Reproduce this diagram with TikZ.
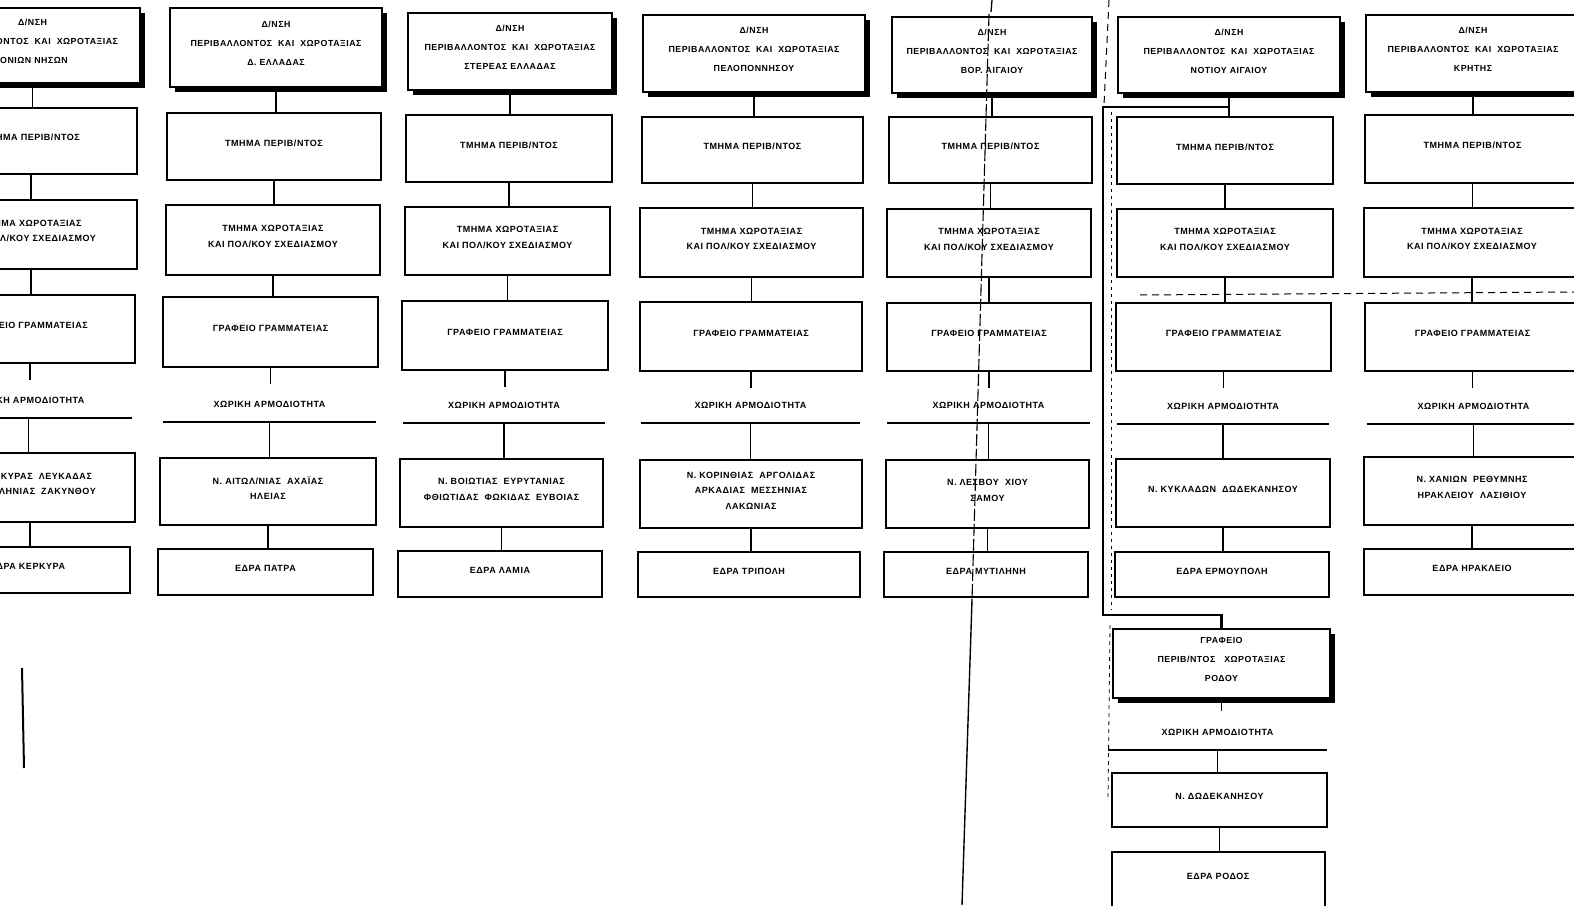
\documentclass[tikz,border=0pt]{standalone}
\usepackage{fontspec}
\newfontfamily\grf[LetterSpace=6]{Liberation Sans}
\usetikzlibrary{shadows}
\tikzset{
  bxs/.style={draw, line width=1.7pt, fill=white, inner sep=0pt},
  hds/.style={bxs, line width=2.2pt,
    drop shadow={shadow xshift=4.5pt, shadow yshift=-5pt, fill=black, opacity=1}},
  txt/.style={align=center, inner sep=0pt,
    font=\grf\bfseries\fontsize{9}{15.5}\selectfont},
  htxt/.style={align=center, inner sep=0pt,
    font=\grf\bfseries\fontsize{8.8}{19}\selectfont},
  conn/.style={line width=1.7pt},
  lbl/.style={inner sep=0pt, minimum height=34pt, anchor=south, align=center,
    font=\grf\bfseries\fontsize{9}{15}\selectfont},
  hl/.style={line width=1.5pt},
  artd/.style={line width=1pt, dash pattern=on 7pt off 5pt},
}
\newcommand\mybox[6]{\node[bxs, minimum width={#4-#2}, minimum height={#5-#3}] (#1) at ({(#2+#4)/2},{(#3+#5)/2}) {};
  \node[txt] (#1t) at ([yshift=3.5pt]#1.center) {#6};}
\newcommand\myhead[6]{\node[hds, minimum width={#4-#2}, minimum height={#5-#3}] (#1) at ({(#2+#4)/2},{(#3+#5)/2}) {};
  \node[htxt] (#1t) at ([yshift=4pt]#1.center) {#6};}
\newcommand\mylab[5]{\node[lbl, minimum width={#3-#2}] (#1) at ({(#2+#3)/2},#4) {#5};
  \draw[hl] (#1.south west) -- (#1.south east);}
\newcommand\vc[2]{\draw[conn] (#1.south) -- (#1.south |- #2.north);}
\newcommand\stub[1]{\draw[conn] (#1.south) -- ++(0,16);}
\begin{document}
\begin{tikzpicture}[x=1pt,y=-1pt]
\useasboundingbox (0,0) rectangle (1574,905);
\clip (0,0) rectangle (1574,905);
\fill[white] (0,0) rectangle (1574,905);

% ---------- column 1 : Ionian islands ----------
\myhead{h1}{-75}{8}{140}{83}{Δ/ΝΣΗ\\ΠΕΡΙΒΑΛΛΟΝΤΟΣ\ \ ΚΑΙ\ \ ΧΩΡΟΤΑΞΙΑΣ\\ΙΟΝΙΩΝ ΝΗΣΩΝ}
\mybox{a1}{-75}{108}{137}{174}{ΤΜΗΜΑ ΠΕΡΙΒ/ΝΤΟΣ}
\mybox{b1}{-75}{200}{137}{269}{ΤΜΗΜΑ ΧΩΡΟΤΑΞΙΑΣ\\ΚΑΙ ΠΟΛ/ΚΟΥ ΣΧΕΔΙΑΣΜΟΥ}
\mybox{c1}{-75}{295}{135}{363}{ΓΡΑΦΕΙΟ ΓΡΑΜΜΑΤΕΙΑΣ}
\mylab{l1}{-75}{132}{418}{ΧΩΡΙΚΗ ΑΡΜΟΔΙΟΤΗΤΑ}
\mybox{d1}{-75}{453}{135}{522}{Ν. ΚΕΡΚΥΡΑΣ\ \ ΛΕΥΚΑΔΑΣ\\ΚΕΦΑΛΛΗΝΙΑΣ\ \ ΖΑΚΥΝΘΟΥ}
\mybox{e1}{-75}{547}{130}{593}{ΕΔΡΑ ΚΕΡΚΥΡΑ}
\vc{h1}{a1}\vc{a1}{b1}\vc{b1}{c1}\stub{c1}\vc{l1}{d1}\vc{d1}{e1}

% ---------- column 2 : W. Greece ----------
\myhead{h2}{170}{8}{382}{87}{Δ/ΝΣΗ\\ΠΕΡΙΒΑΛΛΟΝΤΟΣ\ \ ΚΑΙ\ \ ΧΩΡΟΤΑΞΙΑΣ\\Δ. ΕΛΛΑΔΑΣ}
\mybox{a2}{167}{113}{381}{180}{ΤΜΗΜΑ ΠΕΡΙΒ/ΝΤΟΣ}
\mybox{b2}{166}{205}{380}{275}{ΤΜΗΜΑ ΧΩΡΟΤΑΞΙΑΣ\\ΚΑΙ ΠΟΛ/ΚΟΥ ΣΧΕΔΙΑΣΜΟΥ}
\mybox{c2}{163}{297}{378}{367}{ΓΡΑΦΕΙΟ ΓΡΑΜΜΑΤΕΙΑΣ}
\mylab{l2}{163}{376}{422}{ΧΩΡΙΚΗ ΑΡΜΟΔΙΟΤΗΤΑ}
\mybox{d2}{160}{458}{376}{525}{Ν. ΑΙΤΩΛ/ΝΙΑΣ\ \ ΑΧΑΪΑΣ\\ΗΛΕΙΑΣ}
\mybox{e2}{158}{549}{373}{595}{ΕΔΡΑ ΠΑΤΡΑ}
\vc{h2}{a2}\vc{a2}{b2}\vc{b2}{c2}\stub{c2}\vc{l2}{d2}\vc{d2}{e2}

% ---------- column 3 : Central Greece ----------
\myhead{h3}{408}{13}{612}{90}{Δ/ΝΣΗ\\ΠΕΡΙΒΑΛΛΟΝΤΟΣ\ \ ΚΑΙ\ \ ΧΩΡΟΤΑΞΙΑΣ\\ΣΤΕΡΕΑΣ ΕΛΛΑΔΑΣ}
\mybox{a3}{406}{115}{612}{182}{ΤΜΗΜΑ ΠΕΡΙΒ/ΝΤΟΣ}
\mybox{b3}{405}{207}{610}{275}{ΤΜΗΜΑ ΧΩΡΟΤΑΞΙΑΣ\\ΚΑΙ ΠΟΛ/ΚΟΥ ΣΧΕΔΙΑΣΜΟΥ}
\mybox{c3}{402}{301}{608}{370}{ΓΡΑΦΕΙΟ ΓΡΑΜΜΑΤΕΙΑΣ}
\mylab{l3}{403}{605}{423}{ΧΩΡΙΚΗ ΑΡΜΟΔΙΟΤΗΤΑ}
\mybox{d3}{400}{459}{603}{527}{Ν. ΒΟΙΩΤΙΑΣ\ \ ΕΥΡΥΤΑΝΙΑΣ\\ΦΘΙΩΤΙΔΑΣ\ \ ΦΩΚΙΔΑΣ\ \ ΕΥΒΟΙΑΣ}
\mybox{e3}{398}{551}{602}{597}{ΕΔΡΑ ΛΑΜΙΑ}
\vc{h3}{a3}\vc{a3}{b3}\vc{b3}{c3}\stub{c3}\vc{l3}{d3}\vc{d3}{e3}

% ---------- column 4 : Peloponnese ----------
\myhead{h4}{643}{15}{865}{92}{Δ/ΝΣΗ\\ΠΕΡΙΒΑΛΛΟΝΤΟΣ\ \ ΚΑΙ\ \ ΧΩΡΟΤΑΞΙΑΣ\\ΠΕΛΟΠΟΝΝΗΣΟΥ}
\mybox{a4}{642}{117}{863}{183}{ΤΜΗΜΑ ΠΕΡΙΒ/ΝΤΟΣ}
\mybox{b4}{640}{208}{863}{277}{ΤΜΗΜΑ ΧΩΡΟΤΑΞΙΑΣ\\ΚΑΙ ΠΟΛ/ΚΟΥ ΣΧΕΔΙΑΣΜΟΥ}
\mybox{c4}{640}{302}{862}{371}{ΓΡΑΦΕΙΟ ΓΡΑΜΜΑΤΕΙΑΣ}
\mylab{l4}{641}{860}{423}{ΧΩΡΙΚΗ ΑΡΜΟΔΙΟΤΗΤΑ}
\mybox{d4}{640}{460}{862}{528}{Ν. ΚΟΡΙΝΘΙΑΣ\ \ ΑΡΓΟΛΙΔΑΣ\\ΑΡΚΑΔΙΑΣ\ \ ΜΕΣΣΗΝΙΑΣ\\ΛΑΚΩΝΙΑΣ}
\mybox{e4}{638}{552}{860}{597}{ΕΔΡΑ ΤΡΙΠΟΛΗ}
\vc{h4}{a4}\vc{a4}{b4}\vc{b4}{c4}\stub{c4}\vc{l4}{d4}\vc{d4}{e4}

% ---------- column 5 : N. Aegean ----------
\myhead{h5}{892}{17}{1092}{93}{Δ/ΝΣΗ\\ΠΕΡΙΒΑΛΛΟΝΤΟΣ\ \ ΚΑΙ\ \ ΧΩΡΟΤΑΞΙΑΣ\\ΒΟΡ. ΑΙΓΑΙΟΥ}
\mybox{a5}{889}{117}{1092}{183}{ΤΜΗΜΑ ΠΕΡΙΒ/ΝΤΟΣ}
\mybox{b5}{887}{209}{1091}{277}{ΤΜΗΜΑ ΧΩΡΟΤΑΞΙΑΣ\\ΚΑΙ ΠΟΛ/ΚΟΥ ΣΧΕΔΙΑΣΜΟΥ}
\mybox{c5}{887}{303}{1091}{371}{ΓΡΑΦΕΙΟ ΓΡΑΜΜΑΤΕΙΑΣ}
\mylab{l5}{887}{1090}{423}{ΧΩΡΙΚΗ ΑΡΜΟΔΙΟΤΗΤΑ}
\mybox{d5}{886}{460}{1089}{528}{Ν. ΛΕΣΒΟΥ\ \ ΧΙΟΥ\\ΣΑΜΟΥ}
\mybox{e5}{884}{552}{1088}{597}{ΕΔΡΑ ΜΥΤΙΛΗΝΗ}
\vc{h5}{a5}\vc{a5}{b5}\vc{b5}{c5}\stub{c5}\vc{l5}{d5}\vc{d5}{e5}

% ---------- column 6 : S. Aegean ----------
\myhead{h6}{1118}{17}{1340}{93}{Δ/ΝΣΗ\\ΠΕΡΙΒΑΛΛΟΝΤΟΣ\ \ ΚΑΙ\ \ ΧΩΡΟΤΑΞΙΑΣ\\ΝΟΤΙΟΥ ΑΙΓΑΙΟΥ}
\mybox{a6}{1117}{117}{1333}{184}{ΤΜΗΜΑ ΠΕΡΙΒ/ΝΤΟΣ}
\mybox{b6}{1117}{209}{1333}{277}{ΤΜΗΜΑ ΧΩΡΟΤΑΞΙΑΣ\\ΚΑΙ ΠΟΛ/ΚΟΥ ΣΧΕΔΙΑΣΜΟΥ}
\mybox{c6}{1116}{303}{1331}{371}{ΓΡΑΦΕΙΟ ΓΡΑΜΜΑΤΕΙΑΣ}
\mylab{l6}{1117}{1329}{424}{ΧΩΡΙΚΗ ΑΡΜΟΔΙΟΤΗΤΑ}
\mybox{d6}{1116}{459}{1330}{527}{Ν. ΚΥΚΛΑΔΩΝ\ \ ΔΩΔΕΚΑΝΗΣΟΥ}
\mybox{e6}{1115}{552}{1329}{597}{ΕΔΡΑ ΕΡΜΟΥΠΟΛΗ}
\vc{h6}{a6}\vc{a6}{b6}\vc{b6}{c6}\stub{c6}\vc{l6}{d6}\vc{d6}{e6}

% ---------- column 7 : Crete ----------
\myhead{h7}{1366}{15}{1580}{92}{Δ/ΝΣΗ\\ΠΕΡΙΒΑΛΛΟΝΤΟΣ\ \ ΚΑΙ\ \ ΧΩΡΟΤΑΞΙΑΣ\\ΚΡΗΤΗΣ}
\mybox{a7}{1365}{115}{1580}{183}{ΤΜΗΜΑ ΠΕΡΙΒ/ΝΤΟΣ}
\mybox{b7}{1364}{208}{1580}{277}{ΤΜΗΜΑ ΧΩΡΟΤΑΞΙΑΣ\\ΚΑΙ ΠΟΛ/ΚΟΥ ΣΧΕΔΙΑΣΜΟΥ}
\mybox{c7}{1365}{303}{1580}{371}{ΓΡΑΦΕΙΟ ΓΡΑΜΜΑΤΕΙΑΣ}
\mylab{l7}{1367}{1580}{424}{ΧΩΡΙΚΗ ΑΡΜΟΔΙΟΤΗΤΑ}
\mybox{d7}{1364}{457}{1580}{525}{Ν. ΧΑΝΙΩΝ\ \ ΡΕΘΥΜΝΗΣ\\ΗΡΑΚΛΕΙΟΥ\ \ ΛΑΣΙΘΙΟΥ}
\mybox{e7}{1364}{549}{1580}{595}{ΕΔΡΑ ΗΡΑΚΛΕΙΟ}
\vc{h7}{a7}\vc{a7}{b7}\vc{b7}{c7}\stub{c7}\vc{l7}{d7}\vc{d7}{e7}

% ---------- Rhodes office ----------
\myhead{h8}{1113}{629}{1330}{698}{ΓΡΑΦΕΙΟ\\ΠΕΡΙΒ/ΝΤΟΣ\ \ \ ΧΩΡΟΤΑΞΙΑΣ\\ΡΟΔΟΥ}
\draw[conn] (h8.south) -- ++(0,12);
\mylab{l8}{1108}{1327}{750}{ΧΩΡΙΚΗ ΑΡΜΟΔΙΟΤΗΤΑ}
\mybox{d8}{1112}{773}{1327}{827}{Ν. ΔΩΔΕΚΑΝΗΣΟΥ}
\node[bxs, minimum width=213, minimum height=73] (e8) at (1218.5,888.5) {};
\node[txt] (e8t) at (1218,876) {ΕΔΡΑ ΡΟΔΟΣ};
\vc{l8}{d8}\vc{d8}{e8}

% rail from S. Aegean to Rhodes
\coordinate (r1) at (1103,107);
\coordinate (r2) at (1103,615);
\draw[conn, line width=2.2pt] (h6.south |- r1) -- (r1) -- (r2) -- (r2 -| h8.north) -- (h8.north);

% scan artefacts
\draw[artd] (1109,0) -- (1104,105);
\draw[line width=0.8pt, dash pattern=on 3pt off 4pt] (1111,112) -- (1111,610);
\draw[line width=0.8pt, dash pattern=on 4pt off 4pt] (1110,625) -- (1108,800);
\draw[artd] (1140,295) -- (1574,292);
\draw[line width=1.3pt] (992,0) -- (991,12);
\draw[line width=1.1pt, dash pattern=on 12pt off 3pt] (989,14) -- (972,600);
\draw[line width=1.4pt] (972,600) -- (962,905);
\draw[line width=2pt] (22,668) -- (24,768);
\end{tikzpicture}
\end{document}
